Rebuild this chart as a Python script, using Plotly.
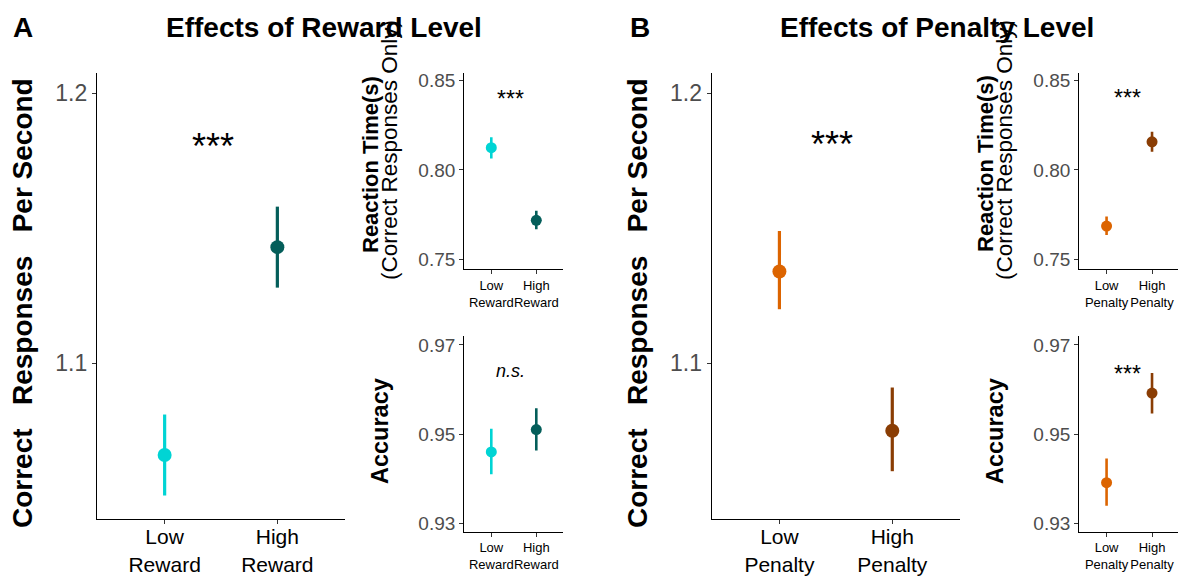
import plotly.graph_objects as go

# ---------------- data ----------------
reward_labels = ["Low<br>Reward", "High<br>Reward"]
penalty_labels = ["Low<br>Penalty", "High<br>Penalty"]

reward_colors = ["#00D4D4", "#045E5A"]
penalty_colors = ["#DC6400", "#8A3D04"]

# Correct responses per second
reward_crps = [1.066, 1.143]
reward_crps_hi = [1.081, 1.158]
reward_crps_lo = [1.051, 1.128]
penalty_crps = [1.134, 1.075]
penalty_crps_hi = [1.149, 1.091]
penalty_crps_lo = [1.120, 1.060]

# Reaction time (correct responses only)
reward_rt = [0.8125, 0.7718]
reward_rt_hi = [0.8183, 0.7772]
reward_rt_lo = [0.8065, 0.7668]
penalty_rt = [0.7686, 0.8158]
penalty_rt_hi = [0.7739, 0.8214]
penalty_rt_lo = [0.7636, 0.8102]

# Accuracy
reward_acc = [0.946, 0.951]
reward_acc_hi = [0.9512, 0.9558]
reward_acc_lo = [0.941, 0.9463]
penalty_acc = [0.9391, 0.9592]
penalty_acc_hi = [0.9445, 0.9637]
penalty_acc_lo = [0.9339, 0.9546]

crps_ticks = [1.1, 1.2]
rt_ticks = [0.75, 0.80, 0.85]
acc_ticks = [0.93, 0.95, 0.97]

W, H = 1186, 580
OFF = 8  # page body margin of the html page
FONT = "Liberation Sans, Arial, sans-serif"

fig = go.Figure()


def px_x(v):
    return (v - OFF) / W


def px_y(v):
    return 1 - (v - OFF) / H


# panel: (axis suffix, x0,x1,y_top,y_bottom px, labels, values, hi, lo, colors, yrange, yticks, tickfmt, big)
panels = [
    ("", 97, 345, 73, 519, reward_labels, reward_crps, reward_crps_hi, reward_crps_lo,
     reward_colors, [1.0423, 1.2075], crps_ticks, ".1f", True),
    ("2", 464.3, 563.3, 73, 269.3, reward_labels, reward_rt, reward_rt_hi, reward_rt_lo,
     reward_colors, [0.7444, 0.8543], rt_ticks, ".2f", False),
    ("3", 464.3, 563.3, 336, 531.7, reward_labels, reward_acc, reward_acc_hi, reward_acc_lo,
     reward_colors, [0.9281, 0.972], acc_ticks, ".2f", False),
    ("4", 711.7, 960, 73, 519, penalty_labels, penalty_crps, penalty_crps_hi, penalty_crps_lo,
     penalty_colors, [1.0423, 1.2075], crps_ticks, ".1f", True),
    ("5", 1079.3, 1179.3, 73, 269.3, penalty_labels, penalty_rt, penalty_rt_hi, penalty_rt_lo,
     penalty_colors, [0.7444, 0.8543], rt_ticks, ".2f", False),
    ("6", 1079.3, 1179.3, 336, 531.7, penalty_labels, penalty_acc, penalty_acc_hi, penalty_acc_lo,
     penalty_colors, [0.9281, 0.972], acc_ticks, ".2f", False),
]

layout_axes = {}
for suf, x0, x1, yt, yb, labels, vals, hi, lo, cols, yr, yt_vals, fmt, big in panels:
    for i in range(2):
        fig.add_trace(go.Scatter(
            x=[i], y=[vals[i]], mode="markers",
            marker=dict(color=cols[i], size=14 if big else 11),
            error_y=dict(type="data", symmetric=False,
                         array=[hi[i] - vals[i]], arrayminus=[vals[i] - lo[i]],
                         color=cols[i], thickness=3.2 if big else 2.6, width=0),
            xaxis="x" + suf, yaxis="y" + suf, showlegend=False, hoverinfo="skip"))
    layout_axes["xaxis" + suf] = dict(
        domain=[px_x(x0), px_x(x1)], anchor="y" + suf, range=[-0.6, 1.6],
        tickvals=[0, 1], ticktext=labels, tickangle=0, automargin=False,
        ticklabelstandoff=-5 if big else 0,
        showline=True, linecolor="black", linewidth=1.3,
        ticks="outside", ticklen=4, tickcolor="#333333", showgrid=False, zeroline=False,
        tickfont=dict(family=FONT, size=21 if big else 13, color="black"), fixedrange=True)
    layout_axes["yaxis" + suf] = dict(
        domain=[px_y(yb), px_y(yt)], anchor="x" + suf, range=yr,
        tickvals=yt_vals, ticktext=[format(v, fmt) for v in yt_vals], automargin=False,
        showline=True, linecolor="black", linewidth=1.3,
        ticks="outside", ticklen=4, tickcolor="#333333", showgrid=False, zeroline=False,
        tickfont=dict(family=FONT, size=23 if big else 19, color="#4D4D4D"), fixedrange=True)

annotations = []


def ann(text, x, y, size, bold=False, angle=0, italic=False, color="black"):
    t = text
    if bold:
        t = "<b>" + t + "</b>"
    if italic:
        t = "<i>" + t + "</i>"
    annotations.append(dict(text=t, x=px_x(x), y=px_y(y), xref="paper", yref="paper",
                            showarrow=False, textangle=angle, xanchor="center",
                            yanchor="middle", font=dict(family=FONT, size=size, color=color)))


# panel letters and titles
ann("A", 23, 27, 28, bold=True)
ann("Effects of Reward Level", 323.5, 27, 28, bold=True)
ann("B", 640, 27, 28, bold=True)
ann("Effects of Penalty Level", 937, 27, 28, bold=True)

# y axis titles
ylab_main = "Correct   Responses   Per Second"
ann(ylab_main, 22, 303, 28, bold=True, angle=-90)
ann(ylab_main, 637, 303, 28, bold=True, angle=-90)
for dx in (0, 615):
    ann("Reaction Time(s)", 370 + dx, 164, 22, bold=True, angle=-90)
    ann("(Correct Responses Only)", 390 + dx, 150, 22.5, angle=-90)
    ann("Accuracy", 380 + dx, 431, 23.5, bold=True, angle=-90)

# significance labels
ann("***", 213, 146, 36)
ann("***", 832, 144, 36)
ann("***", 510, 99, 23)
ann("n.s.", 510, 371, 18, italic=True)
ann("***", 1127, 98, 23)
ann("***", 1127, 374, 23)

fig.update_layout(
    width=W, height=H, margin=dict(l=0, r=0, t=0, b=0),
    paper_bgcolor="white", plot_bgcolor="white", showlegend=False,
    annotations=annotations, **layout_axes)

fig.write_html("out.html")
